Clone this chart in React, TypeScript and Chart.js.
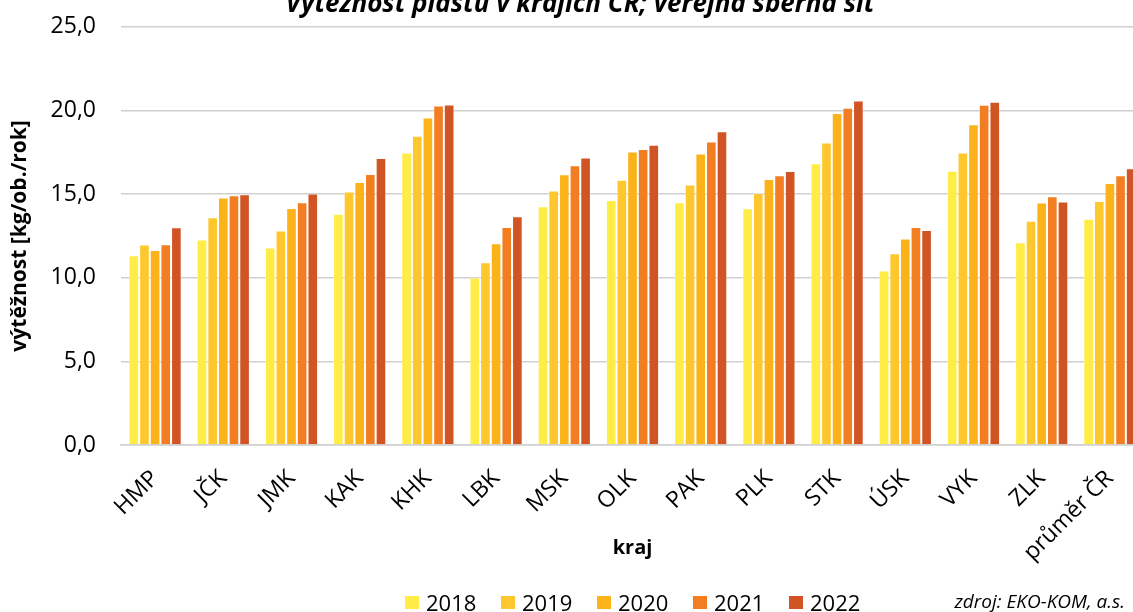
import React, { useEffect, useRef } from "react";
import { Chart, registerables } from "chart.js";

Chart.register(...registerables);

const categories = ["HMP", "JČK", "JMK", "KAK", "KHK", "LBK", "MSK", "OLK", "PAK", "PLK", "STK", "ÚSK", "VYK", "ZLK", "průměr ČR"];
const years = ["2018", "2019", "2020", "2021", "2022"];
const v2018 = [11.34, 12.28, 11.8, 13.83, 17.49, 10.01, 14.27, 14.65, 14.51, 14.15, 16.84, 10.43, 16.4, 12.12, 13.53];
const v2019 = [11.98, 13.61, 12.82, 15.16, 18.49, 10.93, 15.22, 15.86, 15.58, 15.06, 18.09, 11.46, 17.49, 13.41, 14.59];
const v2020 = [11.66, 14.79, 14.17, 15.72, 19.58, 12.06, 16.18, 17.55, 17.43, 15.9, 19.84, 12.34, 19.18, 14.49, 15.66];
const v2021 = [12.0, 14.93, 14.51, 16.2, 20.3, 13.03, 16.72, 17.69, 18.15, 16.12, 20.16, 13.03, 20.34, 14.87, 16.12];
const v2022 = [13.01, 14.99, 15.04, 17.15, 20.36, 13.67, 17.18, 17.95, 18.75, 16.38, 20.6, 12.86, 20.52, 14.55, 16.54];
const seriesValues = [v2018, v2019, v2020, v2021, v2022];
const colors = ["#FFEC45", "#FFC72E", "#FBB319", "#F27E21", "#D15424"];
const yTicks = [0, 5, 10, 15, 20, 25];

const titleText = "Výtěžnost plastů v krajích ČR; veřejná sběrná síť";
const sourceText = "zdroj: EKO-KOM, a.s.";
const FONT = "'Open Sans', 'Noto Sans', sans-serif";
const SHIFT = 12;

const overlayPlugin = {
  id: "overlay",
  afterDraw(chart: any) {
    const ctx = chart.ctx;
    ctx.save();
    ctx.translate(0, SHIFT);
    // title
    ctx.fillStyle = "#000";
    ctx.font = `italic bold 26px ${FONT}`;
    ctx.textAlign = "center";
    ctx.textBaseline = "alphabetic";
    ctx.fillText(titleText, 580, 12);
    // legend
    ctx.font = `22px ${FONT}`;
    ctx.textAlign = "left";
    const startX = 405;
    const step = 96;
    years.forEach((y, i) => {
      const x = startX + i * step;
      ctx.fillStyle = colors[i];
      ctx.fillRect(x, 596, 14, 13);
      ctx.fillStyle = "#000";
      ctx.fillText(y, x + 21, 611);
    });
    // source
    ctx.font = `italic 19px ${FONT}`;
    ctx.textAlign = "right";
    ctx.fillText(sourceText, 1125, 608);
    ctx.restore();
  },
};

export default function App() {
  const ref = useRef<HTMLCanvasElement>(null);
  useEffect(() => {
    if (!ref.current) return;
    const chart = new Chart(ref.current, {
      type: "bar",
      data: {
        labels: categories,
        datasets: years.map((y, i) => ({
          label: y,
          data: seriesValues[i],
          backgroundColor: colors[i],
          borderColor: "rgba(255,255,255,0.45)",
          borderWidth: 1,
          categoryPercentage: 0.78,
          barPercentage: 1.0,
        })),
      },
      options: {
        responsive: false,
        animation: false,
        devicePixelRatio: 1,
        layout: { padding: { left: 0, right: 6, top: 14, bottom: 48 } },
        plugins: {
          legend: { display: false },
          title: { display: false },
          tooltip: { enabled: false },
        },
        scales: {
          x: {
            grid: { display: false },
            border: { display: true, color: "#D0D0D0", width: 1.5 },
            ticks: {
              color: "#000",
              font: { family: FONT, size: 23 },
              minRotation: 45,
              maxRotation: 45,
              padding: 12,
              autoSkip: false,
            },
            title: {
              display: true,
              text: "kraj",
              color: "#000",
              font: { family: FONT, size: 20, weight: "bold" },
              padding: { top: 4, bottom: 4 },
            },
            afterFit: (s: any) => {
              s.height = 119;
            },
          },
          y: {
            min: 0,
            max: 25,
            afterBuildTicks: (s: any) => {
              s.ticks = yTicks.map((v) => ({ value: v }));
            },
            grid: { color: "#D0D0D0", lineWidth: 1.5, drawTicks: false },
            border: { display: false },
            ticks: {
              color: "#000",
              font: { family: FONT, size: 23 },
              padding: 25,
              callback: (v: any) => Number(v).toFixed(1).replace(".", ","),
            },
            title: {
              display: true,
              text: "výtěžnost [kg/ob./rok]",
              color: "#000",
              font: { family: FONT, size: 21, weight: "bold" },
              padding: { top: 7, bottom: 4 },
            },
            afterFit: (s: any) => {
              s.width = 121;
            },
          },
        },
      },
      plugins: [overlayPlugin],
    });
    return () => chart.destroy();
  }, []);
  return (
    <div style={{ position: "fixed", left: 0, top: 0, width: 1133, height: 612, overflow: "hidden", background: "#fff" }}>
      <canvas ref={ref} width={1150} height={612 + SHIFT} style={{ display: "block", width: 1150, height: 612 + SHIFT, marginTop: -SHIFT }} />
    </div>
  );
}
